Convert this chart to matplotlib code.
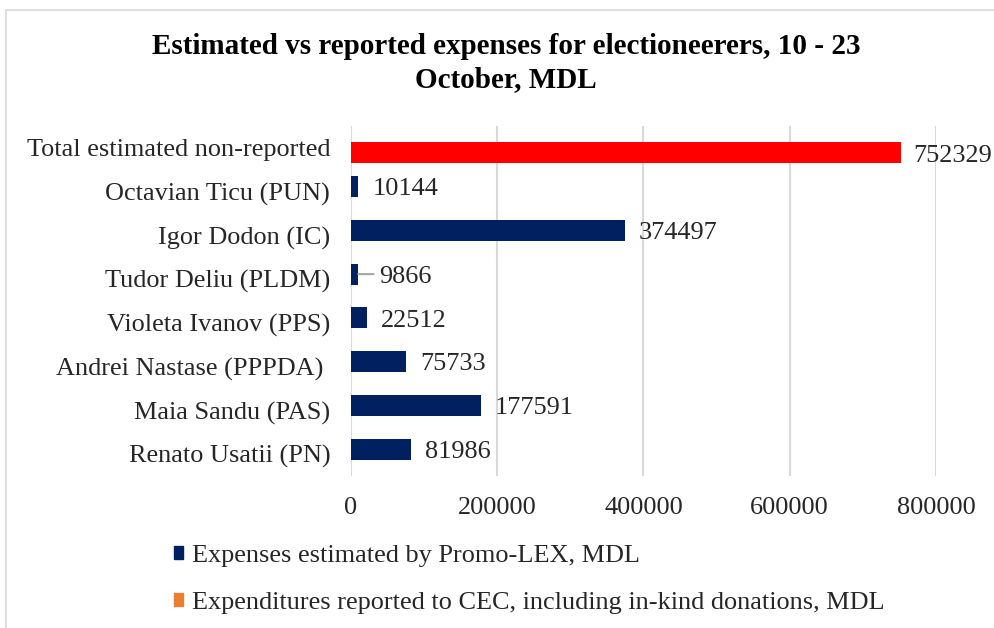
import matplotlib
matplotlib.use("Agg")
import matplotlib.pyplot as plt
from matplotlib.patches import Patch, Rectangle
import numpy as np

# chart data, bottom category first
categories = ['Renato Usatii (PN)', 'Maia Sandu (PAS)', 'Andrei Nastase (PPPDA) ',
              'Violeta Ivanov (PPS)', 'Tudor Deliu (PLDM)', 'Igor Dodon (IC)',
              'Octavian Ticu (PUN)', 'Total estimated non-reported']
estimated = [81986, 177591, 75733, 22512, 9866, 374497, 10144, 0]
reported = [0, 0, 0, 0, 0, 0, 0, 752329]
x_ticks = [0, 200000, 400000, 600000, 800000]

title = 'Estimated vs reported expenses for electioneerers, 10 - 23\nOctober, MDL'
legend_labels = ['Expenses estimated by Promo-LEX, MDL',
                 'Expenditures reported to CEC, including in-kind donations, MDL']

navy = '#002060'
orange = '#ED7D31'
red = '#FF0000'
grid_col = '#D9D9D9'

plt.rcParams['font.family'] = ['Liberation Serif', 'DejaVu Serif']
fs = 18.9

fig = plt.figure(figsize=(9.95, 6.28), dpi=100)
fig.patches.append(Rectangle((6 / 995, -0.1), 1.2, 1.1 - 10 / 628, transform=fig.transFigure,
                             fill=False, edgecolor=grid_col, lw=1.2))

ax = fig.add_axes([351 / 995, 0.242, 0.5879, 0.5573])
y = np.arange(len(categories))
h = 0.48
off = 0.115

ax.barh(y + off, estimated, height=h, color=navy, zorder=3)
bar_colors = [red if v > 0 else orange for v in reported]
ax.barh(y - off, reported, height=h, color=bar_colors, zorder=3)

# data labels
lab_dy = -2
for i, v in enumerate(estimated):
    if v == 0:
        continue
    dx = 10
    if categories[i].startswith('Tudor'):
        # label was dragged out a bit, Excel draws a leader line
        dx = 15
        ax.annotate('', xy=(v, y[i] + off), xytext=(11, 0), textcoords='offset points',
                    arrowprops=dict(arrowstyle='-', color='#A6A6A6', lw=1.5, shrinkA=0, shrinkB=0))
    ax.annotate(str(v), xy=(v, y[i] + off), xytext=(dx, lab_dy), textcoords='offset points',
                va='center', ha='left', fontsize=fs, color='#262626')
for i, v in enumerate(reported):
    if v == 0:
        continue
    ax.annotate(str(v), xy=(v, y[i] - off), xytext=(9, lab_dy), textcoords='offset points',
                va='center', ha='left', fontsize=fs, color='#262626', annotation_clip=False)

ax.set_xlim(0, 800000)
ax.set_ylim(-0.5, len(categories) - 0.5)
ax.set_xticks(x_ticks)
ax.set_xticklabels([str(t) for t in x_ticks])
ax.set_yticks(y)
ax.set_yticklabels(categories)
ax.tick_params(axis='x', length=0, pad=15, labelsize=fs, labelcolor='#262626')
ax.tick_params(axis='y', length=0, pad=15, labelsize=fs, labelcolor='#262626')
ax.grid(axis='x', color=grid_col, lw=1.5, zorder=0)
for s in ax.spines.values():
    s.set_visible(False)

fig.text(506 / 995, 1 - 63 / 628, title, ha='center', va='center', fontsize=21,
         fontweight='bold', color='#000000', linespacing=1.25)

handles = [Patch(color=navy), Patch(color=orange)]
fig.legend(handles, legend_labels, loc='upper left', bbox_to_anchor=(174 / 995, 1 - 545 / 628),
           frameon=False, fontsize=fs, handlelength=0.35, handleheight=0.35, handletextpad=0.35,
           labelspacing=0.95, borderpad=0, borderaxespad=0, labelcolor='#262626')

fig.savefig('out.png', dpi=100)
